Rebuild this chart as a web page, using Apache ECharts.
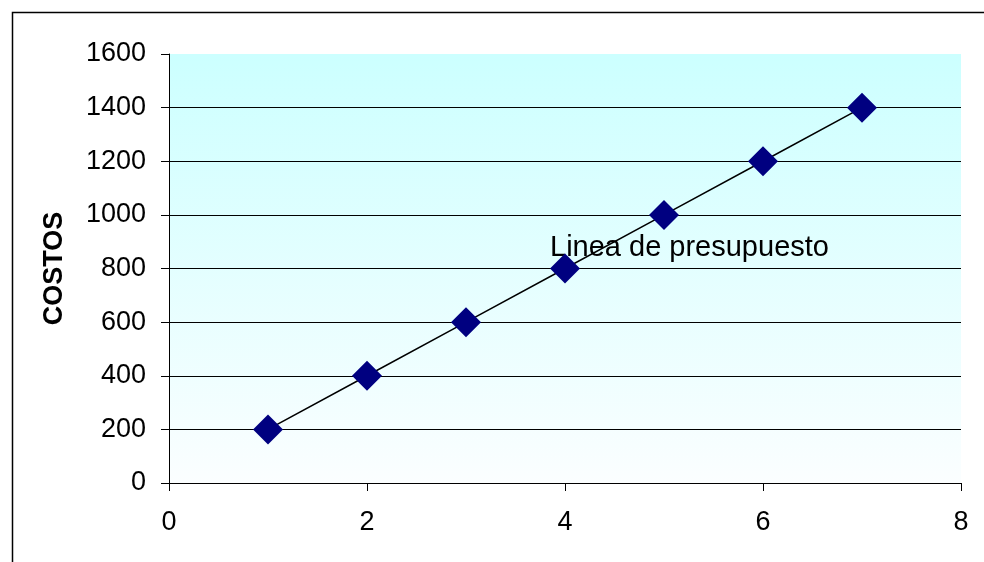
<!DOCTYPE html>
<html lang="es">
<head>
<meta charset="UTF-8">
<title>Costos</title>
<script src="https://cdn.jsdelivr.net/npm/echarts@6/dist/echarts.min.js"></script>
<style>
  body { margin: 0; padding: 0; background: #fff; }
  #main { width: 984px; height: 562px; }
</style>
</head>
<body>
<div id="main"></div>
<script>
  // datos del presupuesto
  var unidades = [1, 2, 3, 4, 5, 6, 7];
  var costos = [200, 400, 600, 800, 1000, 1200, 1400];
  var etiqueta = 'Linea de presupuesto';
  var ejeY = 'COSTOS';

  var puntos = unidades.map(function (u, i) { return [u, costos[i]]; });
  var fuente = '"Liberation Sans", Arial, sans-serif';

  var chart = echarts.init(document.getElementById('main'));
  chart.setOption({
    animation: false,
    textStyle: { fontFamily: fuente },
    grid: {
      left: 169, right: 23, top: 54, bottom: 79,
      show: true,
      borderWidth: 0,
      backgroundColor: {
        type: 'linear', x: 0, y: 0, x2: 0, y2: 1,
        colorStops: [
          { offset: 0, color: '#ccffff' },
          { offset: 1, color: '#fbfeff' }
        ]
      }
    },
    xAxis: {
      type: 'value', min: 0, max: 8, interval: 2,
      axisLine: { show: true, lineStyle: { color: '#000', width: 1 } },
      axisTick: { show: true, length: 8, lineStyle: { color: '#000' } },
      axisLabel: { color: '#000', fontSize: 27, fontFamily: fuente, margin: 26 },
      splitLine: { show: false }
    },
    yAxis: {
      type: 'value', min: 0, max: 1600, interval: 200,
      name: ejeY, nameLocation: 'middle', nameGap: 101,
      nameTextStyle: { color: '#000', fontSize: 27, fontWeight: 'bold', fontFamily: fuente },
      axisLine: { show: true, lineStyle: { color: '#000', width: 1 } },
      axisTick: { show: true, length: 8, lineStyle: { color: '#000' } },
      axisLabel: {
        color: '#000', fontSize: 27, fontFamily: fuente, margin: 23,
        formatter: function (v) { return String(v); }
      },
      splitLine: { show: true, lineStyle: { color: '#000', width: 1 }, showMaxLine: false }
    },
    series: [{
      type: 'line',
      data: puntos,
      symbol: 'diamond',
      symbolSize: 30,
      itemStyle: { color: '#000080' },
      lineStyle: { color: '#000', width: 1.5 }
    }],
    graphic: [
      {
        type: 'rect', left: 10, top: 10, silent: true,
        shape: { width: 1000, height: 600 },
        style: { fill: null, stroke: '#000', lineWidth: 1.5 }
      },
      {
        type: 'text', x: 550, y: 248, silent: true,
        style: {
          text: etiqueta, fill: '#000', fontSize: 29, fontFamily: fuente,
          textAlign: 'left', textVerticalAlign: 'middle'
        }
      }
    ]
  });
</script>
</body>
</html>
